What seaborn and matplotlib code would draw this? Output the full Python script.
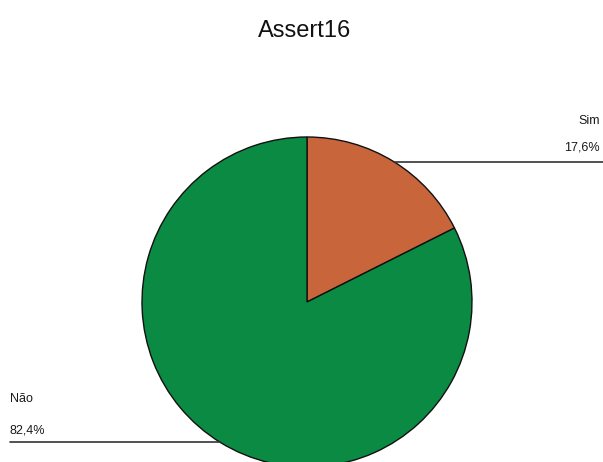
import matplotlib
matplotlib.use("Agg")
import matplotlib.pyplot as plt
import seaborn as sns
import numpy as np

sns.set_theme(style="white")
plt.rcParams["font.family"] = ["Liberation Sans", "DejaVu Sans"]

categories = ["Sim", "Não"]
values = [17.6, 82.4]
value_labels = ["17,6%", "82,4%"]
colors = ["#c8653b", "#0a8a42"]

W, H = 603, 462
fig = plt.figure(figsize=(W / 100, H / 100), dpi=100)
ax = fig.add_axes([0, 0, 1, 1])

cx, cy, r = 307, H - 302, 165
wedges, _ = ax.pie(values, colors=colors, startangle=90, counterclock=False,
                   center=(cx, cy), radius=r, frame=True,
                   wedgeprops=dict(edgecolor="#111111", linewidth=1.0))
ax.set_xlim(0, W)
ax.set_ylim(0, H)
ax.set_aspect("equal")
ax.axis("off")

# leader lines and labels at each wedge's mid angle
for w, name, lab in zip(wedges, categories, value_labels):
    mid = np.deg2rad((w.theta1 + w.theta2) / 2)
    px, py = cx + r * np.cos(mid), cy + r * np.sin(mid)
    if np.cos(mid) >= 0:
        ax.plot([px, W], [py, py], color="#333333", lw=1.2, clip_on=False)
        ax.text(600, py + 14, lab, ha="right", va="center", fontsize=9, color="#1a1a1a")
        ax.text(600, py + 41, name, ha="right", va="center", fontsize=9, color="#1a1a1a")
    else:
        ax.plot([10, px], [py, py], color="#333333", lw=1.2, clip_on=False)
        ax.text(10, py + 12, lab, ha="left", va="center", fontsize=9, color="#1a1a1a")
        ax.text(10, py + 43, name, ha="left", va="center", fontsize=9, color="#1a1a1a")

fig.text(305 / W, 1 - 31 / H, "Assert16", ha="center", va="center", fontsize=17, color="#111111")

fig.savefig("out.png", dpi=100, facecolor="white")
